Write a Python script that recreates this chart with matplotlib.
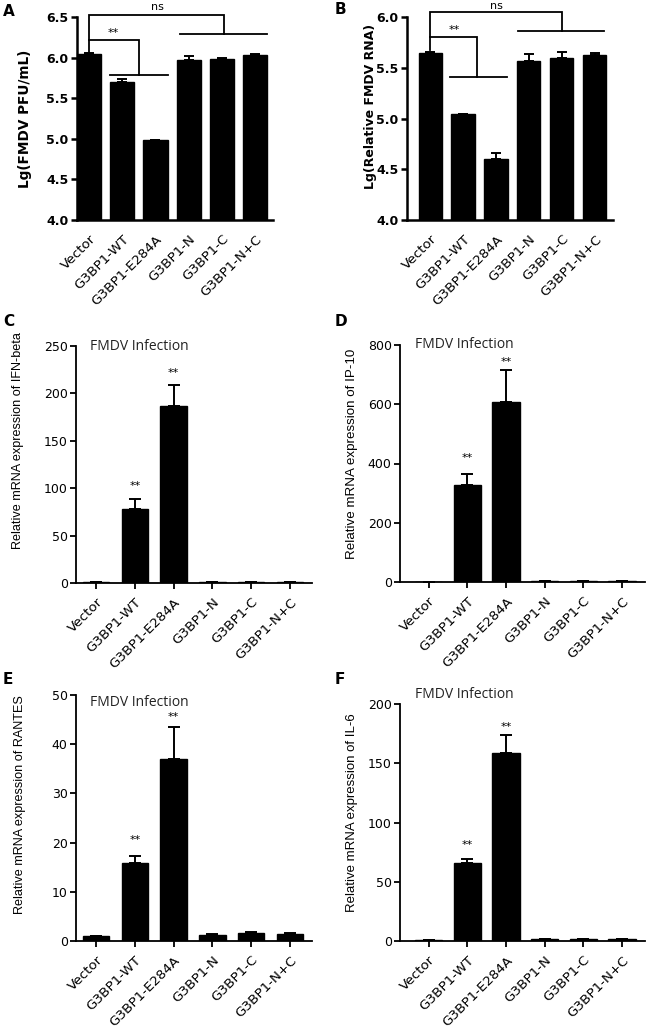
import matplotlib
matplotlib.use("Agg")
import matplotlib.pyplot as plt

categories = ["Vector", "G3BP1-WT", "G3BP1-E284A", "G3BP1-N", "G3BP1-C", "G3BP1-N+C"]

a_vals = [6.04, 5.70, 4.98, 5.97, 5.98, 6.03]
a_err = [0.015, 0.04, 0.01, 0.045, 0.012, 0.012]
b_vals = [5.65, 5.04, 4.60, 5.57, 5.60, 5.63]
b_err = [0.01, 0.005, 0.065, 0.065, 0.06, 0.02]
c_vals = [1.0, 78.5, 187.0, 1.0, 1.0, 1.0]
c_err = [0.2, 10.0, 22.0, 0.2, 0.2, 0.2]
d_vals = [1.0, 327.0, 609.0, 3.0, 2.0, 3.0]
d_err = [0.3, 36.0, 108.0, 0.5, 0.5, 0.5]
e_vals = [1.0, 15.9, 36.9, 1.3, 1.6, 1.5]
e_err = [0.1, 1.4, 6.5, 0.1, 0.2, 0.1]
f_vals = [1.0, 66.0, 159.0, 1.5, 1.5, 1.5]
f_err = [0.2, 3.0, 15.0, 0.2, 0.2, 0.2]

a_ticks = [4.0, 4.5, 5.0, 5.5, 6.0, 6.5]
b_ticks = [4.0, 4.5, 5.0, 5.5, 6.0]
c_ticks = [0, 50, 100, 150, 200, 250]
d_ticks = [0, 200, 400, 600, 800]
e_ticks = [0, 10, 20, 30, 40, 50]
f_ticks = [0, 50, 100, 150, 200]

W, H = 649, 1029
fig = plt.figure(figsize=(W / 100, H / 100), dpi=100)
plt.rcParams['font.family'] = ['DejaVu Sans']


def add_ax(l, r, t, b):
    return fig.add_axes([l / W, 1 - b / H, (r - l) / W, (b - t) / H])


def style(ax, lw):
    for s in ["top", "right"]:
        ax.spines[s].set_visible(False)
    for s in ["left", "bottom"]:
        ax.spines[s].set_linewidth(lw)
    ax.tick_params(axis="y", direction="out", width=lw, length=4, pad=2)
    ax.tick_params(axis="x", direction="out", width=lw, length=4, pad=5)


def bars(ax, vals, err, width, ylim, ticks, xlim, bold, ylabel, ylsize, lcoords,
         fmt, xticks_visible, cap, labfam):
    x = list(range(len(categories)))
    ax.bar(x, vals, width=width, color="black", edgecolor="black", zorder=2)
    ax.errorbar(x, vals, yerr=[[0] * len(err), err], fmt="none", ecolor="black",
                elinewidth=1.4, capsize=cap, capthick=1.4, zorder=1)
    ax.set_xlim(*xlim)
    ax.set_ylim(*ylim)
    ax.set_yticks(ticks)
    ax.set_yticklabels([fmt.format(t) for t in ticks],
                       fontsize=9, fontweight="bold" if bold else "normal")
    ax.set_xticks(x)
    ax.set_xticklabels(categories, rotation=45, ha="right", rotation_mode="anchor",
                       fontsize=9.7)
    if not xticks_visible:
        ax.tick_params(axis="x", length=0, pad=9)
    ax.set_ylabel(ylabel, fontsize=ylsize, fontweight="bold" if bold else "normal",
                  family=labfam)
    ax.yaxis.set_label_coords(*lcoords)


def bracket(ax, xs, ys, lw=1.3):
    ax.plot(xs, ys, color="black", lw=lw, clip_on=False, solid_joinstyle="miter")


# Panel A
axA = add_ax(77, 273, 17, 220)
style(axA, 1.8)
bars(axA, a_vals, a_err, 0.73, (4.0, 6.5), a_ticks, (-0.365, 5.54), True,
     "Lg(FMDV PFU/mL)", 9.8, (-0.23, 0.5), "{:.1f}", False, 3.3, ["DejaVu Sans"])
bracket(axA, [0, 0, 4.05, 4.05], [6.07, 6.52, 6.52, 6.29])
bracket(axA, [2.74, 5.36], [6.29, 6.29])
bracket(axA, [0, 1.5, 1.5], [6.22, 6.22, 5.79])
bracket(axA, [0.63, 2.38], [5.79, 5.79])
axA.text(2.07, 6.62, "ns", ha="center", va="center", fontsize=8)
axA.text(0.72, 6.24, "**", ha="center", va="bottom", fontsize=8)

# Panel B
axB = add_ax(407, 613, 17, 220)
style(axB, 1.8)
bars(axB, b_vals, b_err, 0.7, (4.0, 6.0), b_ticks, (-0.70, 5.55), True,
     "Lg(Relative FMDV RNA)", 9, (-0.146, 0.56), "{:.1f}", False, 3.3, ["DejaVu Sans"])
bracket(axB, [0, 0, 4.0, 4.0], [5.67, 6.05, 6.05, 5.86])
bracket(axB, [2.68, 5.27], [5.86, 5.86])
bracket(axB, [0, 1.42, 1.42], [5.80, 5.80, 5.41])
bracket(axB, [0.6, 2.32], [5.41, 5.41])
axB.text(2.0, 6.105, "ns", ha="center", va="center", fontsize=8)
axB.text(0.72, 5.82, "**", ha="center", va="bottom", fontsize=8)

# Panels C-F
specs = [
    ((76, 312, 346, 583), c_vals, c_err, (0, 250), c_ticks, (-0.52, 5.57), 0.68,
     "Relative mRNA expression of IFN-beta", 9.1, (-0.22, 0.60), (102, 222), 1.0),
    ((400, 645, 345, 582), d_vals, d_err, (0, 800), d_ticks, (-0.74, 5.59), 0.71,
     "Relative mRNA expression of IP-10", 9.6, (-0.17, 0.54), (417, 743), 1.0),
    ((76, 312, 695, 941), e_vals, e_err, (0, 50), e_ticks, (-0.52, 5.57), 0.68,
     "Relative mRNA expression of RANTES", 9.1, (-0.21, 0.553), (20.5, 45.5), 0.97),
    ((400, 645, 704, 941), f_vals, f_err, (0, 200), f_ticks, (-0.74, 5.59), 0.71,
     "Relative mRNA expression of IL-6", 9.5, (-0.17, 0.54), (81, 181), 1.04),
]
for box, vals, err, ylim, ticks, xlim, width, ylabel, ylsize, lc, stars, ty in specs:
    ax = add_ax(*box)
    style(ax, 1.3)
    bars(ax, vals, err, width, ylim, ticks, xlim, False, ylabel, ylsize, lc,
         "{:d}", True, 4.5, ["Liberation Sans", "DejaVu Sans"])
    ax.text(1, stars[0], "**", ha="center", va="center", fontsize=8)
    ax.text(2, stars[1], "**", ha="center", va="center", fontsize=8)
    ax.text(0.06, ty, "FMDV Infection", transform=ax.transAxes, ha="left",
            va="center", fontsize=10, family=["Open Sans", "DejaVu Sans"], color="#222222")

# Panel letters
for letter, (px, py) in zip("ABCDEF", [(3, 11), (335, 10), (3, 322), (335, 322),
                                        (3, 679), (335, 679)]):
    fig.text(px / W, 1 - py / H, letter, fontsize=11, fontweight="bold",
             ha="left", va="center")

fig.savefig("out.png", dpi=100)
